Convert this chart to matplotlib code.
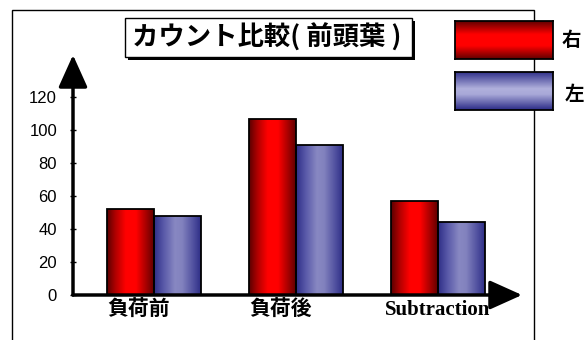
import numpy as np
import matplotlib
matplotlib.use('agg')
from matplotlib import pyplot as plt
from matplotlib.colors import LinearSegmentedColormap
from matplotlib.patches import Rectangle
import matplotlib.patheffects as pe

# データ
categories = ['負荷前', '負荷後', 'Subtraction']
right_vals = [52, 107, 57]   # 右
left_vals = [48, 91, 44]     # 左
yticks = [0, 20, 40, 60, 80, 100, 120]
title = 'カウント比較( 前頭葉 )'
series_names = ['右', '左']

W, H = 584, 340
fig = plt.figure(figsize=(W / 100, H / 100), dpi=100)

# 外枠
fig.add_artist(Rectangle((12 / W, -0.1), (534 - 12) / W, 1.1 - 10 / H,
                         transform=fig.transFigure, fill=False,
                         lw=1, ec='black', zorder=0))

ax = fig.add_axes([73 / W, 45 / H, (522 - 73) / W, 240 / H])
ax.patch.set_visible(False)

red_h = LinearSegmentedColormap.from_list(
    'red_h', [(0, '#5a0000'), (0.18, '#b00000'), (0.4, '#ff0000'),
              (0.62, '#ff0000'), (0.85, '#a00000'), (1, '#600000')])
blue_h = LinearSegmentedColormap.from_list(
    'blue_h', [(0, '#2e2e86'), (0.2, '#5858a8'), (0.45, '#8888c2'),
               (0.6, '#8282be'), (0.85, '#4e4e9e'), (1, '#2e2e86')])

x = np.arange(len(categories))
w = 0.33
grad = np.linspace(0, 1, 256).reshape(1, -1)


def gradient_bars(xpos, vals, cmap):
    bars = ax.bar(xpos, vals, w, facecolor='none', edgecolor='black',
                  lw=1.3, zorder=3)
    for b in bars:
        x0, y0 = b.get_x(), b.get_y()
        im = ax.imshow(grad, extent=[x0, x0 + b.get_width(), y0, y0 + b.get_height()],
                       aspect='auto', cmap=cmap, zorder=2, interpolation='bilinear')
        im.set_clip_path(b)
    return bars


gradient_bars(x - w / 2, right_vals, red_h)
gradient_bars(x + w / 2, left_vals, blue_h)

ax.set_xlim(-0.570, 2.592)
ax.set_ylim(0, 145.5)

for s in ax.spines.values():
    s.set_visible(False)

# 矢印つきの軸
arrow = dict(arrowstyle='-|>,head_length=1.0,head_width=0.45', mutation_scale=20,
             lw=2.5, color='black', shrinkA=0, shrinkB=0)
ax.annotate('', xy=(0, 1), xytext=(0, 0), xycoords='axes fraction',
            arrowprops=arrow, annotation_clip=False)
ax.annotate('', xy=(1, 0), xytext=(0, 0), xycoords='axes fraction',
            arrowprops=arrow, annotation_clip=False)

ax.set_yticks(yticks)
ax.tick_params(axis='y', direction='inout', length=5, width=1, pad=9,
               labelsize=12)
for t in ax.get_yticklabels():
    t.set_family('Liberation Sans')
ax.set_xticks([])

offsets = [-11, -11, 0]
for i, (lbl, dx) in enumerate(zip(categories, offsets)):
    fam = 'Liberation Serif' if lbl.isascii() else 'Noto Sans CJK JP'
    ax.annotate(lbl, xy=(x[i], 0), xycoords=('data', 'axes fraction'),
                xytext=(dx, -10.5), textcoords='offset points',
                ha='center', va='center', fontsize=15, fontweight='bold',
                family=fam, annotation_clip=False)

# タイトル（影つきの枠）
box = Rectangle((125 / W, 1 - 57 / H), 287 / W, 39 / H, transform=fig.transFigure,
                fc='white', ec='black', lw=1, zorder=3)
box.set_path_effects([pe.SimplePatchShadow(offset=(2.5, -2.5), shadow_rgbFace='black',
                                           alpha=1), pe.Normal()])
fig.add_artist(box)
fig.text(267 / W, 1 - 38 / H, title, ha='center', va='center', zorder=4,
         fontsize=19, fontweight='bold', family='Noto Sans CJK JP')

# 凡例
red_v = LinearSegmentedColormap.from_list(
    'red_v', [(0, '#600000'), (0.35, '#ff0000'), (0.65, '#ff0000'), (1, '#600000')])
blue_v = LinearSegmentedColormap.from_list(
    'blue_v', [(0, '#2a2a86'), (0.45, '#b0b0dc'), (0.6, '#a8a8d8'), (1, '#2a2a86')])
vgrad = np.linspace(0, 1, 256).reshape(-1, 1)
label_pos = [(562, 40), (565, 95)]
for k, (name, cmap) in enumerate(zip(series_names, [red_v, blue_v])):
    top = 21 + k * 51
    lax = fig.add_axes([455 / W, 1 - (top + 38) / H, 98 / W, 38 / H], zorder=2)
    lax.imshow(vgrad, aspect='auto', cmap=cmap, interpolation='bilinear')
    lax.set_xticks([])
    lax.set_yticks([])
    for s in lax.spines.values():
        s.set_linewidth(1.3)
    lx, ly = label_pos[k]
    fig.text(lx / W, 1 - ly / H, name, ha='left', va='center',
             fontsize=14, fontweight='bold', family='Noto Sans CJK JP')

fig.savefig('out.png', dpi=100)
